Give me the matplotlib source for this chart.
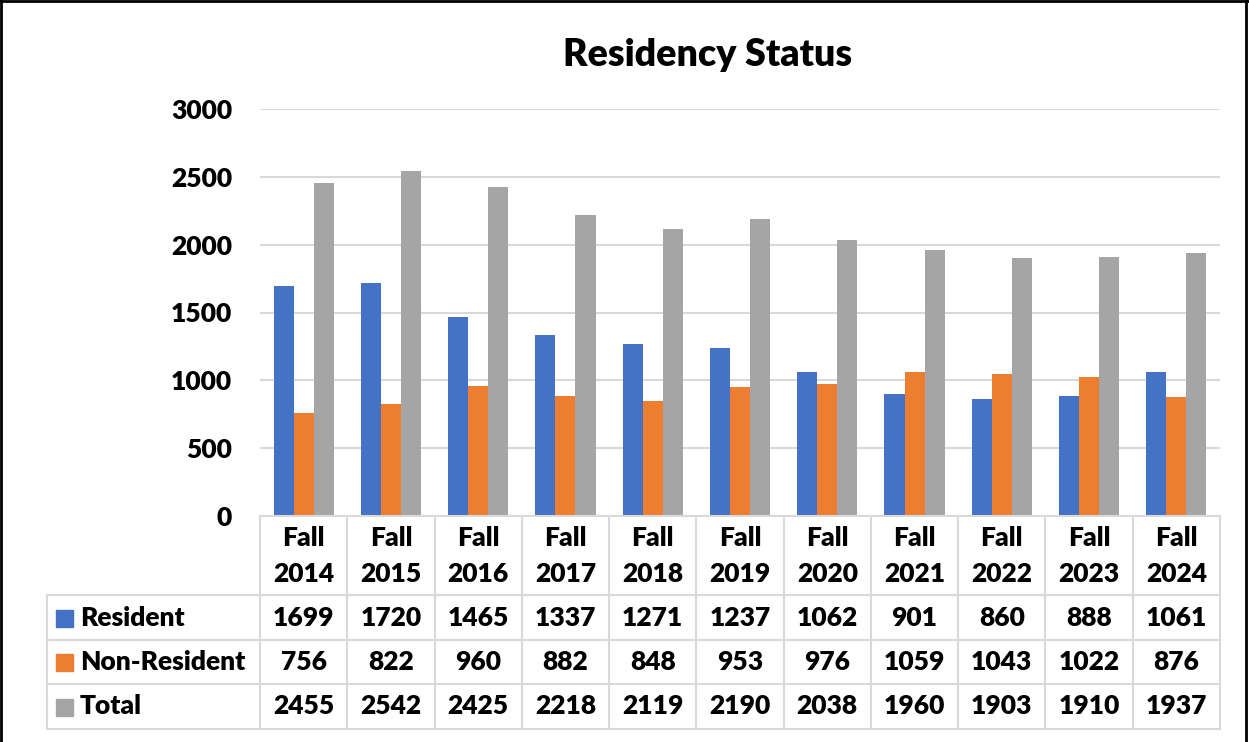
import numpy as np
import matplotlib.pyplot as plt
from matplotlib.lines import Line2D
from matplotlib.patches import Rectangle

# --- data ---
years = ["2014", "2015", "2016", "2017", "2018", "2019", "2020", "2021", "2022", "2023", "2024"]
categories = ["Fall\n" + y for y in years]
resident = [1699, 1720, 1465, 1337, 1271, 1237, 1062, 901, 860, 888, 1061]
non_resident = [756, 822, 960, 882, 848, 953, 976, 1059, 1043, 1022, 876]
total = [2455, 2542, 2425, 2218, 2119, 2190, 2038, 1960, 1903, 1910, 1937]
series_names = ["Resident", "Non-Resident", "Total"]
yticks = [0, 500, 1000, 1500, 2000, 2500, 3000]

colors = ["#4472C4", "#ED7D31", "#A5A5A5"]
grid_col = "#D9D9D9"
FONT = "Lato"
WT = "heavy"
FS = 19

W, H = 1249, 742
fig = plt.figure(figsize=(W / 100, H / 100), dpi=100)

# plot area in pixel coords
px_left, px_right, px_top, px_bot = 260, 1220, 109, 516
ax = fig.add_axes([px_left / W, 1 - px_bot / H, (px_right - px_left) / W, (px_bot - px_top) / H])

n = len(categories)
x = np.arange(n)
bw = 0.23
for i, vals in enumerate([resident, non_resident, total]):
    ax.bar(x + (i - 1) * bw, vals, width=bw, color=colors[i], zorder=3)

ax.set_xlim(-0.5, n - 0.5)
ax.set_ylim(0, 3000)
ax.set_yticks(yticks)
ax.set_yticklabels([str(t) for t in yticks], fontsize=FS, fontweight=WT, family=FONT)
ax.tick_params(axis="y", length=0, pad=20)
ax.set_xticks([])
ax.grid(axis="y", color=grid_col, linewidth=1.5, zorder=0)
for s in ax.spines.values():
    s.set_visible(False)

fig.text(708 / W, 1 - 55 / H, "Residency Status", ha="center", va="center",
         fontsize=27, fontweight=WT, family=FONT)

# --- data table drawn in pixel coords on an overlay axes ---
ov = fig.add_axes([0, 0, 1, 1])
ov.set_xlim(0, W)
ov.set_ylim(H, 0)
ov.axis("off")

col_w = (px_right - px_left) / n
row_y = [595, 640, 684, 729]
tab_left = 47
lw = 1.5

ov.add_line(Line2D([px_left, px_right], [px_bot, px_bot], color=grid_col, lw=lw))
for yy in row_y:
    ov.add_line(Line2D([tab_left, px_right], [yy, yy], color=grid_col, lw=lw))
ov.add_line(Line2D([tab_left, tab_left], [row_y[0], row_y[-1]], color=grid_col, lw=lw))
for k in range(n + 1):
    xx = px_left + k * col_w
    ov.add_line(Line2D([xx, xx], [px_bot, row_y[-1]], color=grid_col, lw=lw))

for k, cat in enumerate(categories):
    cx = px_left + (k + 0.5) * col_w
    top_line, bottom_line = cat.split("\n")
    ov.text(cx, 538, top_line, ha="center", va="center", fontsize=FS, fontweight=WT, family=FONT)
    ov.text(cx, 574, bottom_line, ha="center", va="center", fontsize=FS, fontweight=WT, family=FONT)

for r, (name, vals) in enumerate(zip(series_names, [resident, non_resident, total])):
    cy = (row_y[r] + row_y[r + 1]) / 2
    ov.add_patch(Rectangle((56, cy - 8), 17, 17, color=colors[r]))
    ov.text(80, cy, name, ha="left", va="center", fontsize=FS, fontweight=WT, family=FONT)
    for k, v in enumerate(vals):
        cx = px_left + (k + 0.5) * col_w
        ov.text(cx, cy, str(v), ha="center", va="center", fontsize=FS, fontweight=WT, family=FONT)

# outer frame (left, top, right)
ov.add_line(Line2D([1, 1], [0, H], color="black", lw=2))
ov.add_line(Line2D([0, W], [1, 1], color="black", lw=2))
ov.add_line(Line2D([1246, 1246], [0, H], color="black", lw=2))

fig.savefig("out.png", dpi=100)
